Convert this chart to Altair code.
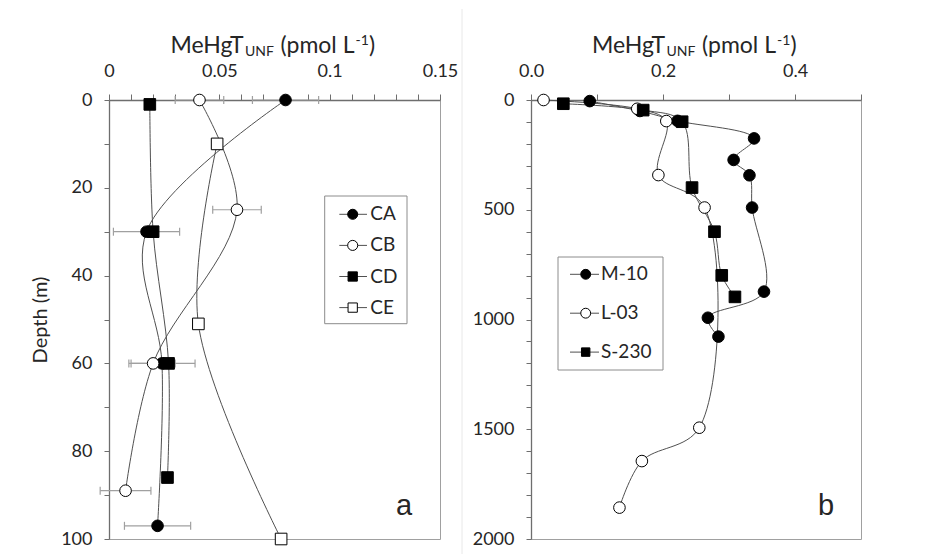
import json
import altair as alt
import pandas as pd

# ---------------- Panel a data ----------------
a_series = ["CA", "CB", "CD", "CE"]
a_ca_depth = [0, 30, 60, 97]
a_ca_val = [0.080, 0.017, 0.024, 0.022]
a_ca_err = [0.015, 0.015, 0.015, 0.015]
a_cb_depth = [0, 25, 60, 89]
a_cb_val = [0.041, 0.058, 0.020, 0.0075]
a_cb_err = [0.011, 0.011, 0.010, 0.0115]
a_cd_depth = [1, 30, 60, 86]
a_cd_val = [0.0185, 0.020, 0.027, 0.0265]
a_ce_depth = [10, 51, 100]
a_ce_val = [0.049, 0.0405, 0.078]
a_xlabels = ["0", "0.05", "0.1", "0.15"]
a_ylabels = ["0", "20", "40", "60", "80", "100"]

# ---------------- Panel b data ----------------
b_series = ["M-10", "L-03", "S-230"]
b_m10_depth = [5, 50, 95, 175, 273, 343, 490, 873, 992, 1078]
b_m10_val = [0.089, 0.165, 0.222, 0.338, 0.307, 0.331, 0.335, 0.353, 0.268, 0.284]
b_l03_depth = [0, 40, 96, 342, 490, 1493, 1645, 1857]
b_l03_val = [0.019, 0.161, 0.205, 0.193, 0.263, 0.255, 0.168, 0.134]
b_s230_depth = [17, 46, 99, 399, 600, 799, 897]
b_s230_val = [0.049, 0.170, 0.229, 0.244, 0.278, 0.289, 0.309]
b_xlabels = ["0.0", "0.2", "0.4"]
b_ylabels = ["0", "500", "1000", "1500", "2000"]

FONT = "Lato"
TXT = "#262626"
LINE = "#505050"
ERR = "#a0a0a0"


def series_df(name, depth, val, err=None):
    d = pd.DataFrame({"s": name, "depth": depth, "val": val})
    if err is not None:
        d["lo"] = [v - e for v, e in zip(val, err)]
        d["hi"] = [v + e for v, e in zip(val, err)]
    return d


df_a = pd.concat([
    series_df("CA", a_ca_depth, a_ca_val, a_ca_err),
    series_df("CB", a_cb_depth, a_cb_val, a_cb_err),
    series_df("CD", a_cd_depth, a_cd_val),
    series_df("CE", a_ce_depth, a_ce_val),
], ignore_index=True)
df_a_err = df_a.dropna(subset=["lo"])

df_b = pd.concat([
    series_df("M-10", b_m10_depth, b_m10_val),
    series_df("L-03", b_l03_depth, b_l03_val),
    series_df("S-230", b_s230_depth, b_s230_val),
], ignore_index=True)


def dummy():
    return pd.DataFrame({"k": [0]})


def make_panel(df, df_err, names, shapes, fills, sizes, xdom, ydom, xticks, yticks,
               xlab_expr, ylab_expr, ytitle, width, height, legend, letter, sep_x):
    xaxis = alt.Axis(orient="top", values=xticks, labelExpr=xlab_expr, labelFlush=False,
                     labelOverlap=False, tickSize=6, labelPadding=14, title=None, grid=False,
                     zindex=0)
    yaxis_kw = dict(orient="left", values=yticks, labelExpr=ylab_expr, labelOverlap=False,
                    tickSize=5, labelPadding=12, grid=False, labelFlush=False, zindex=0)
    if ytitle:
        yaxis = alt.Axis(title=ytitle, titlePadding=10, titleFont=FONT, titleFontSize=20,
                         titleFontWeight="normal", titleColor=TXT, **yaxis_kw)
    else:
        yaxis = alt.Axis(title=None, **yaxis_kw)
    xsc = alt.Scale(domain=xdom, nice=False, zero=False)
    ysc = alt.Scale(domain=ydom, reverse=True, nice=False, zero=False)

    def X(f):
        return alt.X(f"{f}:Q", scale=xsc, axis=xaxis)

    def Y(f):
        return alt.Y(f"{f}:Q", scale=ysc, axis=yaxis)

    shape_sc = alt.Scale(domain=names, range=shapes)
    fill_sc = alt.Scale(domain=names, range=fills)
    size_sc = alt.Scale(domain=names, range=sizes)

    layers = []
    # faint separator line between the two figure halves
    layers.append(alt.Chart(dummy()).mark_rule(color="#e8e8e8", strokeWidth=1,
                                               opacity=1 if sep_x is not None else 0).encode(
        x=alt.value(sep_x if sep_x is not None else 0), y=alt.value(-91), y2=alt.value(height + 16)))

    if df_err is not None and len(df_err):
        layers.append(alt.Chart(df_err).mark_rule(color=ERR, strokeWidth=1.2).encode(
            x=X("lo"), x2="hi:Q", y=Y("depth")))
        for f in ["lo", "hi"]:
            layers.append(alt.Chart(df_err).mark_point(shape="M0,-1L0,1", size=64, filled=False,
                                                        stroke=ERR, strokeWidth=1.2, opacity=1).encode(
                x=X(f), y=Y("depth")))

    layers.append(alt.Chart(df).mark_line(interpolate="catmull-rom", color=LINE, strokeWidth=1).encode(
        x=X("val"), y=Y("depth"), detail="s:N", order="depth:Q"))

    layers.append(alt.Chart(df).mark_point(filled=True, stroke="black", strokeWidth=1, opacity=1).encode(
        x=X("val"), y=Y("depth"),
        shape=alt.Shape("s:N", scale=shape_sc, legend=None),
        fill=alt.Fill("s:N", scale=fill_sc, legend=None),
        size=alt.Size("s:N", scale=size_sc, legend=None),
        order=alt.Order("idx:Q")).transform_calculate(
        idx="indexof(" + json.dumps(names) + ", datum.s)"))

    # legend box
    bx1, bx2, by1, by2 = legend["box"]
    layers.append(alt.Chart(dummy()).mark_rect(fill="white", stroke="#8c8c8c", strokeWidth=1).encode(
        x=alt.value(bx1), x2=alt.value(bx2), y=alt.value(by1), y2=alt.value(by2)))
    for i, name in enumerate(names):
        yy = legend["y0"] + i * legend["dy"]
        d = pd.DataFrame({"s": [name]})
        layers.append(alt.Chart(d).mark_rule(color=LINE, strokeWidth=1).encode(
            x=alt.value(legend["lx1"]), x2=alt.value(legend["lx2"]), y=alt.value(yy)))
        layers.append(alt.Chart(d).mark_point(filled=True, shape=shapes[i], fill=fills[i], stroke="black",
                                              strokeWidth=1, size=sizes[i] * 0.75, opacity=1).encode(
            x=alt.value(legend["mx"]), y=alt.value(yy)))
        layers.append(alt.Chart(d).mark_text(align="left", baseline="middle", font=FONT,
                                             fontSize=19, color=TXT).encode(
            x=alt.value(legend["tx"]), y=alt.value(yy), text="s:N"))

    # x-axis title with subscript / superscript
    t = legend["title_dx"]
    title_parts = [
        ("MeHgT", "right", 134.7 + t, -47.3, 23),
        ("UNF", "left", 136 + t, -44.5, 14),
        ("(pmol L", "right", 245.5 + t, -47.3, 23),
        ("-1", "left", 246.5 + t, -55, 14),
        (")", "left", 260 + t, -47.3, 23),
    ]
    for txt, al, xx, yy, fs in title_parts:
        layers.append(alt.Chart(dummy()).mark_text(text=txt, align=al, baseline="alphabetic",
                                                   font=FONT, fontSize=fs, color=TXT).encode(
            x=alt.value(xx), y=alt.value(yy)))

    # panel letter
    layers.append(alt.Chart(dummy()).mark_text(text=letter, align="center", baseline="middle",
                                               font="Liberation Sans", fontSize=29, color=TXT).encode(
        x=alt.value(letter_pos[0]), y=alt.value(letter_pos[1])))

    return alt.layer(*layers).properties(width=width, height=height)


letter_pos = (295, 406)

a_xticks = [round(i * 0.01, 2) for i in range(16)]
a_yticks = list(range(0, 101, 10))
b_xticks = [round(i * 0.1, 1) for i in range(6)]
b_yticks = list(range(0, 2001, 100))

a_xexpr = "indexof(" + json.dumps(a_xlabels) + ", format(datum.value, '.2~f')) >= 0 ? format(datum.value, '.2~f') : ''"
a_yexpr = "indexof(" + json.dumps(a_ylabels) + ", format(datum.value, 'd')) >= 0 ? format(datum.value, 'd') : ''"
b_xexpr = "indexof(" + json.dumps(b_xlabels) + ", format(datum.value, '.1f')) >= 0 ? format(datum.value, '.1f') : ''"
b_yexpr = "indexof(" + json.dumps(b_ylabels) + ", format(datum.value, 'd')) >= 0 ? format(datum.value, 'd') : ''"

panel_a = make_panel(
    df_a, df_a_err, a_series, ["circle", "circle", "square", "square"],
    ["black", "white", "black", "white"], [135, 135, 115, 115],
    [0, 0.15], [0, 100], a_xticks, a_yticks, a_xexpr, a_yexpr, "Depth (m)", 331, 439,
    dict(box=(215.7, 298, 96, 223.7), y0=114.3, dy=31.1, lx1=230.3, lx2=258, mx=243.7, tx=261.3,
         title_dx=0),
    "a", None)

panel_b = make_panel(
    df_b, None, b_series, ["circle", "circle", "square"],
    ["black", "white", "black"], [130, 130, 95],
    [0, 0.5], [0, 2000], b_xticks, b_yticks, b_xexpr, b_yexpr, None, 330, 439,
    dict(box=(27, 132, 157, 270), y0=174.3, dy=38.9, lx1=39, lx2=68, mx=54.7, tx=70,
         title_dx=-0.5),
    "b", -69)

chart = alt.hconcat(panel_a, panel_b, spacing=2).properties(
    padding={"left": 22, "top": 0, "right": 5, "bottom": 0}
).configure_view(
    stroke="#a0a0a0", strokeWidth=1
).configure_axis(
    labelFont=FONT, labelFontSize=18, labelColor=TXT,
    domainColor="#6e6e6e", domainWidth=1.3, tickColor="#6e6e6e", tickWidth=1
)

chart.save("out.html", embed_options={"renderer": "svg", "actions": False})
